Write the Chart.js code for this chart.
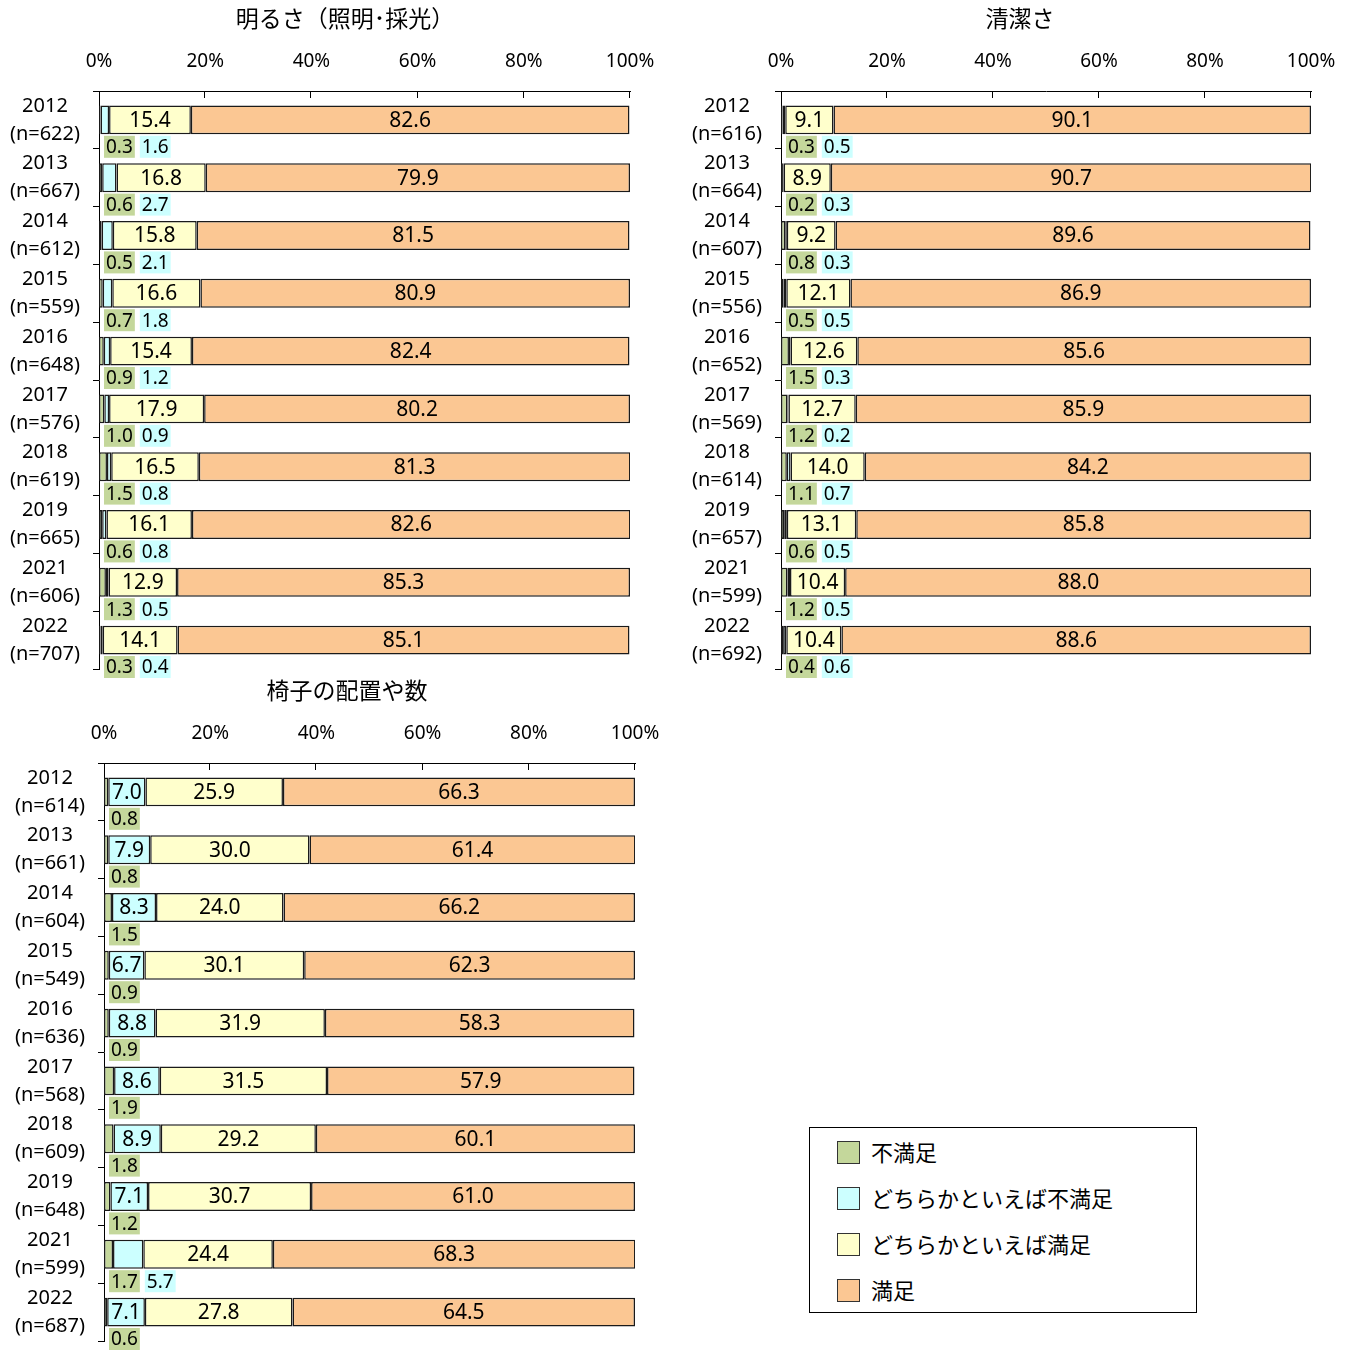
<!DOCTYPE html>
<html lang="ja">
<head>
<meta charset="utf-8">
<script src="https://cdn.jsdelivr.net/npm/chart.js@4.4.1/dist/chart.umd.min.js"></script>
<style>
  body { margin: 0; background: #fff; width: 1354px; height: 1352px; position: relative; overflow: hidden; }
  canvas { position: absolute; }
  #hanrei {
    position: absolute; left: 809px; top: 1127px; width: 386px; height: 184px;
    border: 1.5px solid #000; font-family: 'Noto Sans CJK JP', sans-serif; font-size: 22px; color: #000;
  }
  #hanrei div { position: absolute; left: 27px; height: 24px; line-height: 24px; }
  #hanrei span { display: inline-block; width: 21px; height: 21px; border: 1px solid #333; vertical-align: -3px; margin-right: 11px; }
</style>
</head>
<body>
<canvas id="grafAkarusa" width="680" height="680" style="left:0;top:0"></canvas>
<canvas id="grafSeiketsu" width="672" height="680" style="left:682px;top:0"></canvas>
<canvas id="grafIsu" width="680" height="680" style="left:5px;top:672px"></canvas>
<div id="hanrei"></div>

<script>
// 年度（2020年は調査なし）
const nendo = ['2012', '2013', '2014', '2015', '2016', '2017', '2018', '2019', '2021', '2022'];
const kategori = ['不満足', 'どちらかといえば不満足', 'どちらかといえば満足', '満足'];
const iro = ['#C4D79B', '#CCFFFF', '#FFFFCC', '#FBC793'];
const xMemori = [0, 20, 40, 60, 80, 100];

// 明るさ（照明･採光）
const akarusaN = [622, 667, 612, 559, 648, 576, 619, 665, 606, 707];
const akarusaFuman = [0.3, 0.6, 0.5, 0.7, 0.9, 1.0, 1.5, 0.6, 1.3, 0.3];
const akarusaYaFuman = [1.6, 2.7, 2.1, 1.8, 1.2, 0.9, 0.8, 0.8, 0.5, 0.4];
const akarusaYaManzoku = [15.4, 16.8, 15.8, 16.6, 15.4, 17.9, 16.5, 16.1, 12.9, 14.1];
const akarusaManzoku = [82.6, 79.9, 81.5, 80.9, 82.4, 80.2, 81.3, 82.6, 85.3, 85.1];

// 清潔さ
const seiketsuN = [616, 664, 607, 556, 652, 569, 614, 657, 599, 692];
const seiketsuFuman = [0.3, 0.2, 0.8, 0.5, 1.5, 1.2, 1.1, 0.6, 1.2, 0.4];
const seiketsuYaFuman = [0.5, 0.3, 0.3, 0.5, 0.3, 0.2, 0.7, 0.5, 0.5, 0.6];
const seiketsuYaManzoku = [9.1, 8.9, 9.2, 12.1, 12.6, 12.7, 14.0, 13.1, 10.4, 10.4];
const seiketsuManzoku = [90.1, 90.7, 89.6, 86.9, 85.6, 85.9, 84.2, 85.8, 88.0, 88.6];

// 椅子の配置や数
const isuN = [614, 661, 604, 549, 636, 568, 609, 648, 599, 687];
const isuFuman = [0.8, 0.8, 1.5, 0.9, 0.9, 1.9, 1.8, 1.2, 1.7, 0.6];
const isuYaFuman = [7.0, 7.9, 8.3, 6.7, 8.8, 8.6, 8.9, 7.1, 5.7, 7.1];
const isuYaManzoku = [25.9, 30.0, 24.0, 30.1, 31.9, 31.5, 29.2, 30.7, 24.4, 27.8];
const isuManzoku = [66.3, 61.4, 66.2, 62.3, 58.3, 57.9, 60.1, 61.0, 68.3, 64.5];

const FONT = "'Noto Sans', 'Noto Sans CJK JP', sans-serif";
Chart.defaults.font.family = FONT;
Chart.defaults.color = '#000';

// 値ラベル：幅のある区分は棒の中、狭い区分は棒の下に色付きで並べる
const ataiLabel = {
  id: 'ataiLabel',
  afterDatasetsDraw(chart) {
    const ctx = chart.ctx;
    const y = chart.scales.y;
    const haba = y.getPixelForValue(1) - y.getPixelForValue(0);
    ctx.save();
    ctx.textBaseline = 'middle';
    chart.data.labels.forEach((_, j) => {
      let cx = chart.chartArea.left + 5;
      chart.data.datasets.forEach((ds, i) => {
        const bar = chart.getDatasetMeta(i).data[j];
        const v = ds.data[j];
        const txt = v.toFixed(1);
        if (v >= 6) {
          ctx.font = '21px ' + FONT;
          ctx.textAlign = 'center';
          ctx.fillStyle = '#000';
          ctx.fillText(txt, (bar.x + bar.base) / 2, bar.y + 1);
        } else {
          ctx.font = '19px ' + FONT;
          const w = ctx.measureText(txt).width + 4;
          const ry = bar.y + haba / 2 - 2;
          ctx.fillStyle = ds.backgroundColor;
          ctx.fillRect(cx, ry - 11, w, 22);
          ctx.textAlign = 'left';
          ctx.fillStyle = '#000';
          ctx.fillText(txt, cx + 2, ry + 1);
          cx += w + 5;
        }
      });
    });
    ctx.restore();
  }
};

// 上の軸の目盛り線（内向き）
const uchiMemori = {
  id: 'uchiMemori',
  afterDraw(chart) {
    const ctx = chart.ctx;
    const x = chart.scales.x;
    const top = chart.chartArea.top;
    ctx.save();
    ctx.strokeStyle = '#000';
    ctx.lineWidth = 1;
    xMemori.slice(1).forEach(v => {
      const px = Math.round(x.getPixelForValue(v)) - 0.5;
      ctx.beginPath();
      ctx.moveTo(px, top);
      ctx.lineTo(px, top + 7);
      ctx.stroke();
    });
    ctx.restore();
  }
};

// 見出し（グラフごとに中心位置を指定）
const midashi = {
  id: 'midashi',
  afterDraw(chart, args, opts) {
    const ctx = chart.ctx;
    ctx.save();
    ctx.font = '23px ' + FONT;
    ctx.fillStyle = '#000';
    ctx.textAlign = 'center';
    ctx.textBaseline = 'middle';
    ctx.fillText(opts.text, opts.x, 20);
    ctx.restore();
  }
};

function grafu(id, title, titleX, nList, series, padRight) {
  const ctx = document.getElementById(id).getContext('2d');
  return new Chart(ctx, {
    type: 'bar',
    data: {
      labels: nendo.map((y, i) => [y, '(n=' + nList[i] + ')']),
      datasets: series.map((d, i) => ({
        label: kategori[i],
        data: d,
        backgroundColor: iro[i],
        borderColor: '#1a1a1a',
        borderWidth: 1.5,
        borderSkipped: false,
        barPercentage: 0.5,
        categoryPercentage: 1.0
      }))
    },
    options: {
      indexAxis: 'y',
      responsive: false,
      animation: false,
      layout: { padding: { left: 0, right: padRight, top: 0, bottom: 11 } },
      plugins: {
        legend: { display: false },
        tooltip: { enabled: false },
        midashi: { text: title, x: titleX }
      },
      scales: {
        x: {
          position: 'top',
          stacked: true,
          min: 0,
          max: 100,
          grid: { display: false, drawTicks: false },
          border: { display: true, color: '#000', width: 1 },
          ticks: {
            stepSize: 20,
            padding: 18,
            font: { size: 19 },
            callback: v => v + '%'
          },
          afterFit: s => { s.height = 91; s.paddingLeft = 0; s.paddingRight = 0; }
        },
        y: {
          stacked: true,
          grid: { display: true, drawOnChartArea: false, drawTicks: true, tickLength: 6, color: '#000' },
          border: { display: true, color: '#000', width: 1 },
          ticks: {
            autoSkip: false,
            crossAlign: 'center',
            padding: 13,
            font: { size: 20, lineHeight: 1.4 }
          },
          afterFit: s => { s.width = 99; s.paddingTop = 0; s.paddingBottom = 0; }
        }
      }
    },
    plugins: [ataiLabel, uchiMemori, midashi]
  });
}

grafu('grafAkarusa', '明るさ（照明･採光）', 345,
  akarusaN, [akarusaFuman, akarusaYaFuman, akarusaYaManzoku, akarusaManzoku], 50);
grafu('grafSeiketsu', '清潔さ', 338,
  seiketsuN, [seiketsuFuman, seiketsuYaFuman, seiketsuYaManzoku, seiketsuManzoku], 43);
grafu('grafIsu', '椅子の配置や数', 342,
  isuN, [isuFuman, isuYaFuman, isuYaManzoku, isuManzoku], 50);

// 凡例
const hanrei = document.getElementById('hanrei');
kategori.forEach((k, i) => {
  const d = document.createElement('div');
  d.style.top = (11 + i * 46) + 'px';
  d.innerHTML = '<span style="background:' + iro[i] + '"></span>' + k;
  hanrei.appendChild(d);
});
</script>
</body>
</html>
